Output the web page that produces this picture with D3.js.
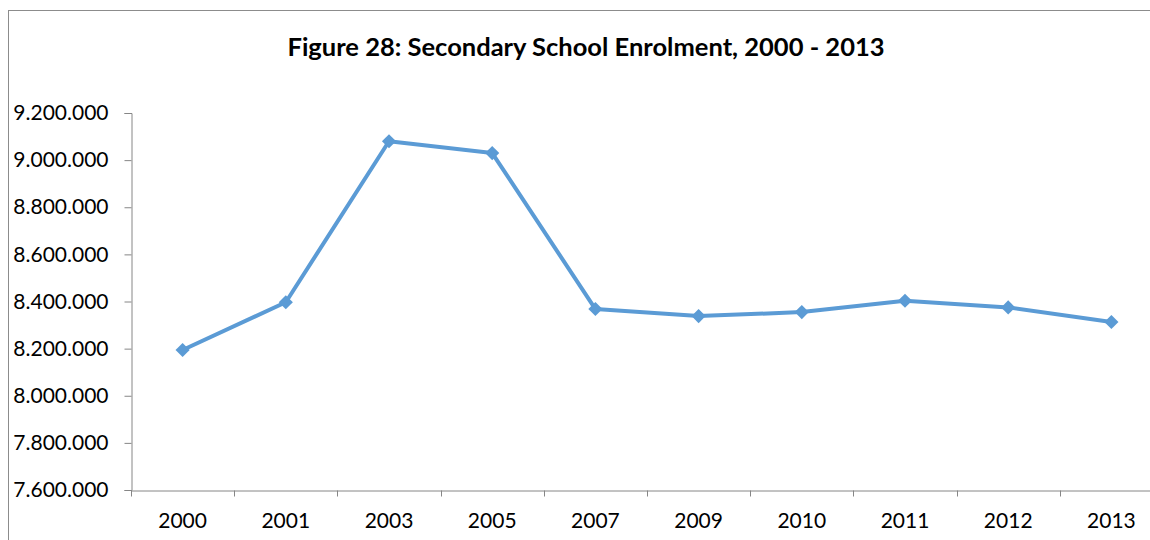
<!DOCTYPE html>
<html>
<head>
<meta charset="utf-8">
<script src="https://cdn.jsdelivr.net/npm/d3@7"></script>
<style>
  body { margin: 0; background: #fff; }
  text { font-family: Lato, "Open Sans", sans-serif; fill: #000; }
</style>
</head>
<body>
<div id="chart"></div>
<script>
const years = ["2000", "2001", "2003", "2005", "2007", "2009", "2010", "2011", "2012", "2013"];
const enrolment = [8194000, 8397000, 9080000, 9030000, 8368000, 8338000, 8355000, 8403000, 8375000, 8313000];
const yTicks = [7600000, 7800000, 8000000, 8200000, 8400000, 8600000, 8800000, 9000000, 9200000];
const title = "Figure 28: Secondary School Enrolment, 2000 - 2013";

const width = 1150, height = 540;
const margin = {left: 131, top: 113, right: -13, bottom: 50};

const svg = d3.select("#chart").append("svg")
    .attr("width", width)
    .attr("height", height);

// chart frame (only left and top edges fall inside the picture)
svg.append("rect")
    .attr("x", 8.5).attr("y", 10.5)
    .attr("width", 1200).attr("height", 600)
    .attr("fill", "none")
    .attr("stroke", "#8c8c8c")
    .attr("stroke-width", 1);

svg.append("text")
    .attr("x", 586).attr("y", 56)
    .attr("text-anchor", "middle")
    .style("font-weight", "bold")
    .style("font-size", "25.5px")
    .text(title);

const x = d3.scaleBand()
    .domain(years)
    .range([margin.left, width - margin.right])
    .padding(0);

const y = d3.scaleLinear()
    .domain([7600000, 9200000])
    .range([height - margin.bottom, margin.top]);

const locale = d3.formatLocale({decimal: ",", thousands: ".", grouping: [3], currency: ["", ""]});
const fmt = locale.format(",d");

const axisColor = "#868686";

// y axis
const yAxis = svg.append("g")
    .attr("transform", `translate(${margin.left + 0.5},0)`)
    .call(d3.axisLeft(y).tickValues(yTicks).tickFormat(fmt).tickSizeOuter(0).tickSize(7).tickPadding(16));
yAxis.select(".domain").attr("stroke", axisColor);
yAxis.selectAll(".tick line").attr("stroke", axisColor);
yAxis.selectAll(".tick text")
    .style("font-size", "21px")
    .style("font-family", "Lato, sans-serif")
    .attr("fill", "#000");

// x axis
const xAxis = svg.append("g")
    .attr("transform", `translate(0,${y(7600000) + 0.5})`)
    .call(d3.axisBottom(x).tickSize(0).tickSizeOuter(0).tickPadding(23));
xAxis.select(".domain").attr("stroke", axisColor);
xAxis.selectAll(".tick text")
    .style("font-size", "21px")
    .style("font-family", "Lato, sans-serif")
    .attr("fill", "#000");
xAxis.selectAll(".edge")
    .data(years)
    .enter().append("line")
    .attr("x1", d => Math.round(x(d)) + 0.5)
    .attr("x2", d => Math.round(x(d)) + 0.5)
    .attr("y1", 0).attr("y2", 6)
    .attr("stroke", axisColor);

// series
const blue = "#5b9bd5";
const line = d3.line()
    .x((d, i) => x(years[i]) + x.bandwidth() / 2)
    .y(d => y(d));

svg.append("path")
    .datum(enrolment)
    .attr("d", line)
    .attr("fill", "none")
    .attr("stroke", blue)
    .attr("stroke-width", 4)
    .attr("stroke-linejoin", "round");

svg.selectAll(".marker")
    .data(enrolment)
    .enter().append("path")
    .attr("class", "marker")
    .attr("d", d3.symbol(d3.symbolSquare, 100))
    .attr("transform", (d, i) => `translate(${x(years[i]) + x.bandwidth() / 2},${y(d)}) rotate(45)`)
    .attr("fill", blue);
</script>
</body>
</html>
